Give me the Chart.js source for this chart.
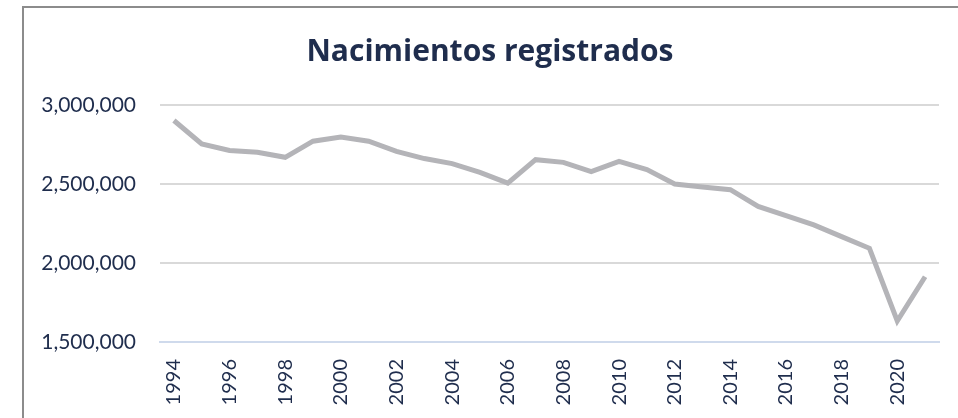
<!DOCTYPE html>
<html>
<head>
<meta charset="utf-8">
<script src="https://cdn.jsdelivr.net/npm/chart.js@4"></script>
<style>
  html, body { margin: 0; padding: 0; background: #fff; overflow: hidden; }
  #frame {
    position: absolute; left: 22px; top: 6px;
    width: 936px; height: 412px;
    border-left: 2px solid #8c8c8c; border-top: 2px solid #8c8c8c;
  }
  #chart { display: block; }
</style>
</head>
<body>
<div id="frame"><canvas id="chart" width="936" height="412"></canvas></div>
<script>
const years = [1994, 1995, 1996, 1997, 1998, 1999, 2000, 2001, 2002, 2003, 2004, 2005, 2006, 2007,
               2008, 2009, 2010, 2011, 2012, 2013, 2014, 2015, 2016, 2017, 2018, 2019, 2020, 2021];
const births = [2902000, 2754000, 2712000, 2701000, 2669000, 2771000, 2798000, 2771000, 2707000,
                2661000, 2629000, 2574000, 2506000, 2654000, 2637000, 2578000, 2643000, 2591000,
                2500000, 2481000, 2464000, 2358000, 2300000, 2241000, 2167000, 2093000, 1633000, 1913000];
const yTicks = [1500000, 2000000, 2500000, 3000000];

const navy = '#1f2d4d';

document.addEventListener('DOMContentLoaded', () => {
    const ctx = document.getElementById('chart').getContext('2d');

    new Chart(ctx, {
        type: 'line',
        data: {
            labels: years.map(String),
            datasets: [{
                label: 'Nacimientos',
                data: births,
                borderColor: '#b4b4b8',
                borderWidth: 5,
                pointRadius: 0,
                tension: 0,
                fill: false
            }]
        },
        options: {
            responsive: false,
            animation: false,
            layout: { padding: { left: 17, right: 21, top: 0, bottom: 0 } },
            plugins: {
                legend: { display: false },
                tooltip: { enabled: false },
                title: {
                    display: true,
                    text: 'Nacimientos registrados',
                    color: navy,
                    font: { family: 'Open Sans', size: 30, weight: 'bold' },
                    padding: { top: 26, bottom: 35 }
                }
            },
            scales: {
                x: {
                    offset: true,
                    grid: { display: false, drawTicks: false },
                    border: { display: true, color: '#cfdaec', width: 2 },
                    ticks: {
                        autoSkip: false,
                        maxRotation: 90,
                        minRotation: 90,
                        padding: 17,
                        color: navy,
                        font: { family: 'Lato', size: 20 },
                        callback: function (value, index) {
                            return years[index] % 2 === 0 ? years[index] : '';
                        }
                    },
                    afterFit: (s) => {
                        s.height = 78;
                        s.paddingLeft = 0;
                        s.paddingRight = 0;
                    }
                },
                y: {
                    min: 1500000,
                    max: 3000000,
                    afterBuildTicks: (s) => { s.ticks = yTicks.map(v => ({ value: v })); },
                    grid: { color: '#d9d9d9', lineWidth: 2, drawTicks: false },
                    border: { display: false },
                    ticks: {
                        padding: 24,
                        color: navy,
                        font: { family: 'Lato', size: 21 },
                        callback: (v) => v.toLocaleString('en-US')
                    },
                    afterFit: (s) => { s.width = 119; }
                }
            }
        }
    });
});
</script>
</body>
</html>
